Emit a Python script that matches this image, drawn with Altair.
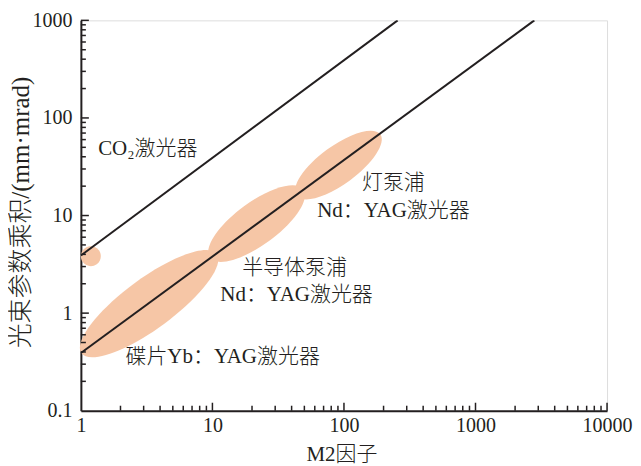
import altair as alt
import pandas as pd

# ---- data -------------------------------------------------------------
x_ticks = [1, 10, 100, 1000, 10000]
y_ticks = [0.1, 1, 10, 100, 1000]
x_major_inner = [10, 100, 1000, 10000]
y_major_inner = [1, 10, 100, 1000]
x_minor = [m * 10 ** e for e in range(0, 4) for m in range(2, 10)]
y_minor = [m * 10.0 ** e for e in range(-1, 3) for m in range(2, 10)]

# straight reference lines (BPP vs M2)
line_group = ["CO2", "CO2", "NdYAG", "NdYAG"]
line_x = [1, 256, 1, 2800]
line_y = [3.9, 1000, 0.39, 1000]

# laser regions (centres)
region_name = ["CO2", "disk", "diode", "lamp"]
region_x = [1.19, 3.3, 21.7, 90.8]
region_y = [3.83, 1.25, 8.28, 32.9]

# annotations
label_text = ["CO₂激光器", "灯泵浦", "Nd：YAG激光器", "半导体泵浦", "Nd：YAG激光器", "碟片Yb：YAG激光器"]
label_x = [3.225, 237.6, 237.6, 42.1, 43.6, 11.96]
label_y = [47.9, 21.5, 11.1, 2.90, 1.54, 0.357]

# ---- styles -----------------------------------------------------------
INK = "#231F20"
FILL = "#F6C6A6"
FONT = "Liberation Serif, Times New Roman, Noto Sans CJK SC"
W, H = 527, 391
TILT = 323.7


def ellipse_path(r):
    k = 0.5523
    return (f"M -1 0 C -1 {-k*r:.4f} {-k:.4f} {-r:.4f} 0 {-r:.4f} "
            f"C {k:.4f} {-r:.4f} 1 {-k*r:.4f} 1 0 "
            f"C 1 {k*r:.4f} {k:.4f} {r:.4f} 0 {r:.4f} "
            f"C {-k:.4f} {r:.4f} -1 {k*r:.4f} -1 0 Z")


xscale = alt.Scale(type="log", domain=[1, 10000], nice=False)
yscale = alt.Scale(type="log", domain=[0.1, 1000], nice=False)

xaxis = alt.Axis(values=x_ticks, format="~g", ticks=False, tickSize=0, grid=False,
                 labelFont=FONT, labelFontSize=20, labelColor=INK, labelPadding=5,
                 labelFlush=False, domainColor=INK, domainWidth=2,
                 title="M2因子", titleFont=FONT, titleFontSize=21, titleColor=INK,
                 titleFontWeight=300, titleX=261, titleY=44, titleBaseline="middle")
yaxis = alt.Axis(values=y_ticks, format="~g", ticks=False, tickSize=0, grid=False,
                 labelFont=FONT, labelFontSize=20, labelColor=INK, labelPadding=9,
                 labelFlush=False, domainColor=INK, domainWidth=2,
                 title="光束参数乘积/(mm·mrad)", titleFont=FONT, titleFontSize=25,
                 titleColor=INK, titleFontWeight=300, titleAngle=270,
                 titleX=-60, titleY=192, titleBaseline="middle")


def X(field="x"):
    return alt.X(f"{field}:Q", scale=xscale, axis=xaxis)


def Y(field="y"):
    return alt.Y(f"{field}:Q", scale=yscale, axis=yaxis)


regions = pd.DataFrame({"name": region_name, "x": region_x, "y": region_y})
shapes = {
    "CO2": (ellipse_path(1.0), 400),
    "disk": (ellipse_path(0.30), 168 ** 2),
    "diode": (ellipse_path(0.37), 116 ** 2),
    "lamp": (ellipse_path(0.37), 104 ** 2),
}
ellipse_layers = []
for nm in region_name:
    path, sz = shapes[nm]
    ellipse_layers.append(
        alt.Chart(regions).transform_filter(alt.datum.name == nm)
        .mark_point(shape=path, size=sz, angle=TILT, filled=True, color=FILL,
                    opacity=1, strokeWidth=0)
        .encode(x=X(), y=Y())
    )

lines = alt.Chart(pd.DataFrame({"g": line_group, "x": line_x, "y": line_y})).mark_line(
    color=INK, strokeWidth=2, clip=True
).encode(x=X(), y=Y(), detail="g:N")

# inward tick marks
y_major_df = pd.DataFrame({"y": y_major_inner})
y_minor_df = pd.DataFrame({"y": y_minor})
x_major_df = pd.DataFrame({"x": x_major_inner})
x_minor_df = pd.DataFrame({"x": x_minor})

ytick_major = alt.Chart(y_major_df).mark_rule(color=INK, strokeWidth=1.5).encode(
    y=Y(), x=alt.value(0), x2=alt.value(8))
ytick_minor = alt.Chart(y_minor_df).mark_rule(color=INK, strokeWidth=1.5).encode(
    y=Y(), x=alt.value(0), x2=alt.value(5))
xtick_major = alt.Chart(x_major_df).mark_rule(color=INK, strokeWidth=1.5).encode(
    x=X(), y=alt.value(H), y2=alt.value(H - 8))
xtick_minor = alt.Chart(x_minor_df).mark_rule(color=INK, strokeWidth=1.5).encode(
    x=X(), y=alt.value(H), y2=alt.value(H - 5))

labels = alt.Chart(pd.DataFrame({"t": label_text, "x": label_x, "y": label_y})).mark_text(
    font=FONT, fontSize=21, fontWeight=300, color=INK, align="center", baseline="middle"
).encode(x=X(), y=Y(), text="t:N")

chart = alt.layer(
    *ellipse_layers, lines, ytick_major, ytick_minor, xtick_major, xtick_minor, labels
).properties(
    width=W, height=H,
    autosize=alt.AutoSizeParams(type="none"),
    padding={"left": 73, "top": 12, "right": 26, "bottom": 54},
).configure_view(stroke="transparent").configure(background="white")

chart.save("out.html", embed_options={"renderer": "svg", "actions": False})
